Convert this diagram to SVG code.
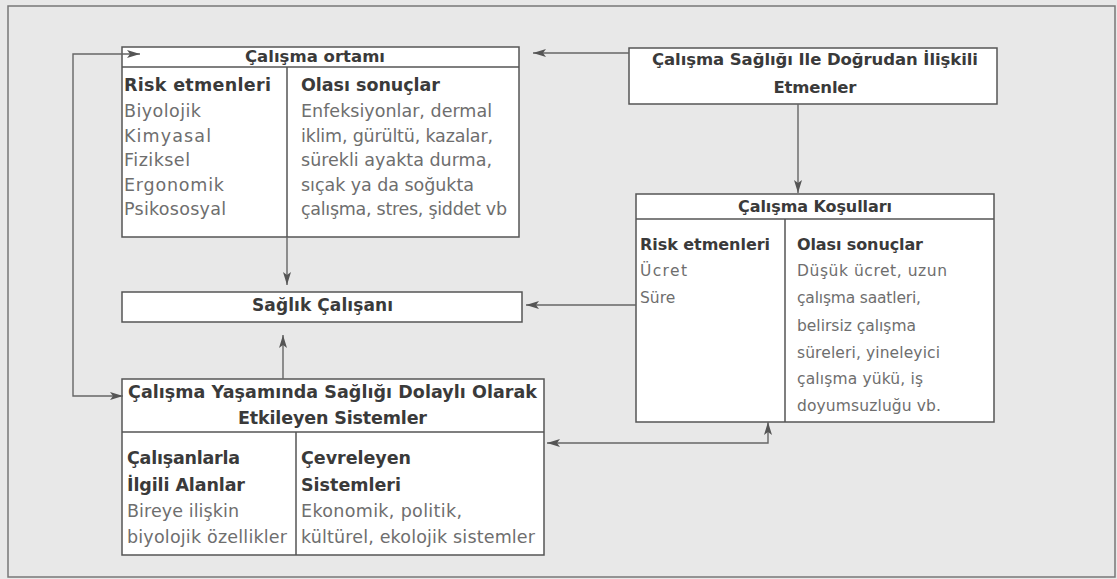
<svg xmlns="http://www.w3.org/2000/svg" width="1117" height="579" viewBox="0 0 1117 579">
<style>
.box{fill:#fff;stroke:#555;stroke-width:1.5}
.div{stroke:#555;stroke-width:1.5;fill:none}
.con{stroke:#666;stroke-width:1.4;fill:none}
text{font-family:"DejaVu Sans","Liberation Sans",sans-serif}
.t{font-size:16px;font-weight:bold;fill:#3a3a3a}
.b{font-size:15.5px;fill:#6e6e6e}
.L{font-size:17.5px}
.c{text-anchor:middle}
</style>
<defs>
<marker id="ah" markerUnits="userSpaceOnUse" markerWidth="14" markerHeight="8" refX="13" refY="4" orient="auto-start-reverse">
<path d="M0,0 L13,4 L0,8 L3,4 z" fill="#555"/>
</marker>
</defs>
<rect x="0" y="0" width="1117" height="579" fill="#e8e8e8"/>
<rect x="8" y="6" width="1107" height="571" fill="none" stroke="#777" stroke-width="1.5"/>

<g id="calisma-ortami">
<rect class="box" x="122" y="47" width="397" height="190"/>
<path class="div" d="M122,67 L519,67 M287,67 L287,237"/>
<text class="t c" x="315" y="62" style="font-size:16.5px" textLength="140" lengthAdjust="spacing">Çalışma ortamı</text>
<text class="t L" x="124" y="91" textLength="147" lengthAdjust="spacing">Risk etmenleri</text>
<text class="b L" x="124" y="117" textLength="77" lengthAdjust="spacing">Biyolojik</text>
<text class="b L" x="124" y="142" textLength="87" lengthAdjust="spacing">Kimyasal</text>
<text class="b L" x="124" y="166" textLength="66" lengthAdjust="spacing">Fiziksel</text>
<text class="b L" x="124" y="191" textLength="100" lengthAdjust="spacing">Ergonomik</text>
<text class="b L" x="124" y="215" textLength="102" lengthAdjust="spacing">Psikososyal</text>
<text class="t L" x="301" y="91" textLength="139" lengthAdjust="spacing">Olası sonuçlar</text>
<text class="b L" x="301" y="117" textLength="191" lengthAdjust="spacing">Enfeksiyonlar, dermal</text>
<text class="b L" x="301" y="142" textLength="192" lengthAdjust="spacing">iklim, gürültü, kazalar,</text>
<text class="b L" x="301" y="166" textLength="191" lengthAdjust="spacing">sürekli ayakta durma,</text>
<text class="b L" x="301" y="191" textLength="173" lengthAdjust="spacing">sıçak ya da soğukta</text>
<text class="b L" x="301" y="215" textLength="206" lengthAdjust="spacing">çalışma, stres, şiddet vb</text>
</g>

<g id="dogrudan-etmenler">
<rect class="box" x="629" y="48" width="368" height="56"/>
<text class="t c" x="815" y="65" style="font-size:16.5px" textLength="326" lengthAdjust="spacing">Çalışma Sağlığı Ile Doğrudan İlişkili</text>
<text class="t c" x="815" y="93" style="font-size:16.5px" textLength="83" lengthAdjust="spacing">Etmenler</text>
</g>

<g id="calisma-kosullari">
<rect class="box" x="636" y="194" width="358" height="228"/>
<path class="div" d="M636,219 L994,219 M785,219 L785,422"/>
<text class="t c" x="815" y="212" textLength="154" lengthAdjust="spacing">Çalışma Koşulları</text>
<text class="t" x="640" y="250" textLength="130" lengthAdjust="spacing">Risk etmenleri</text>
<text class="b" x="640" y="276" textLength="47" lengthAdjust="spacing">Ücret</text>
<text class="b" x="640" y="303">Süre</text>
<text class="t" x="797" y="250" textLength="126" lengthAdjust="spacing">Olası sonuçlar</text>
<text class="b" x="797" y="276" textLength="150" lengthAdjust="spacing">Düşük ücret, uzun</text>
<text class="b" x="797" y="303" textLength="124" lengthAdjust="spacing">çalışma saatleri,</text>
<text class="b" x="797" y="331" textLength="119" lengthAdjust="spacing">belirsiz çalışma</text>
<text class="b" x="797" y="358" textLength="143" lengthAdjust="spacing">süreleri, yineleyici</text>
<text class="b" x="797" y="384" textLength="126" lengthAdjust="spacing">çalışma yükü, iş</text>
<text class="b" x="797" y="411" textLength="144" lengthAdjust="spacing">doyumsuzluğu vb.</text>
</g>

<g id="saglik-calisani">
<rect class="box" x="122" y="292" width="400" height="30"/>
<text class="t c" x="322.5" y="311" style="font-size:17px" textLength="141" lengthAdjust="spacing">Sağlık Çalışanı</text>
</g>

<g id="dolayli-sistemler">
<rect class="box" x="122" y="379" width="422" height="176"/>
<path class="div" d="M122,432 L544,432 M296,432 L296,555"/>
<text class="t L c" x="332.5" y="398" textLength="409" lengthAdjust="spacing">Çalışma Yaşamında Sağlığı Dolaylı Olarak</text>
<text class="t L c" x="332.5" y="424" textLength="189" lengthAdjust="spacing">Etkileyen Sistemler</text>
<text class="t L" x="127" y="464" textLength="113" lengthAdjust="spacing">Çalışanlarla</text>
<text class="t L" x="127" y="491" textLength="118" lengthAdjust="spacing">İlgili Alanlar</text>
<text class="b L" x="127" y="517" textLength="112" lengthAdjust="spacing">Bireye ilişkin</text>
<text class="b L" x="127" y="543" textLength="160" lengthAdjust="spacing">biyolojik özellikler</text>
<text class="t L" x="301" y="464" textLength="110" lengthAdjust="spacing">Çevreleyen</text>
<text class="t L" x="301" y="491" textLength="100" lengthAdjust="spacing">Sistemleri</text>
<text class="b L" x="301" y="517" textLength="161" lengthAdjust="spacing">Ekonomik, politik,</text>
<text class="b L" x="301" y="543" textLength="234" lengthAdjust="spacing">kültürel, ekolojik sistemler</text>
</g>

<g id="connectors">
<path class="con" d="M629,53 L533,53" marker-end="url(#ah)"/>
<path class="con" d="M798,104 L798,193" marker-end="url(#ah)"/>
<path class="con" d="M636,305 L526,305" marker-end="url(#ah)"/>
<path class="con" d="M287,237 L287,285" marker-end="url(#ah)"/>
<path class="con" d="M283,379 L283,335" marker-end="url(#ah)"/>
<path class="con" d="M140,54 L73,54 L73,396 L123,396" marker-start="url(#ah)" marker-end="url(#ah)"/>
<path class="con" d="M547,443 L768,443 L768,422" marker-start="url(#ah)" marker-end="url(#ah)"/>
</g>
</svg>
